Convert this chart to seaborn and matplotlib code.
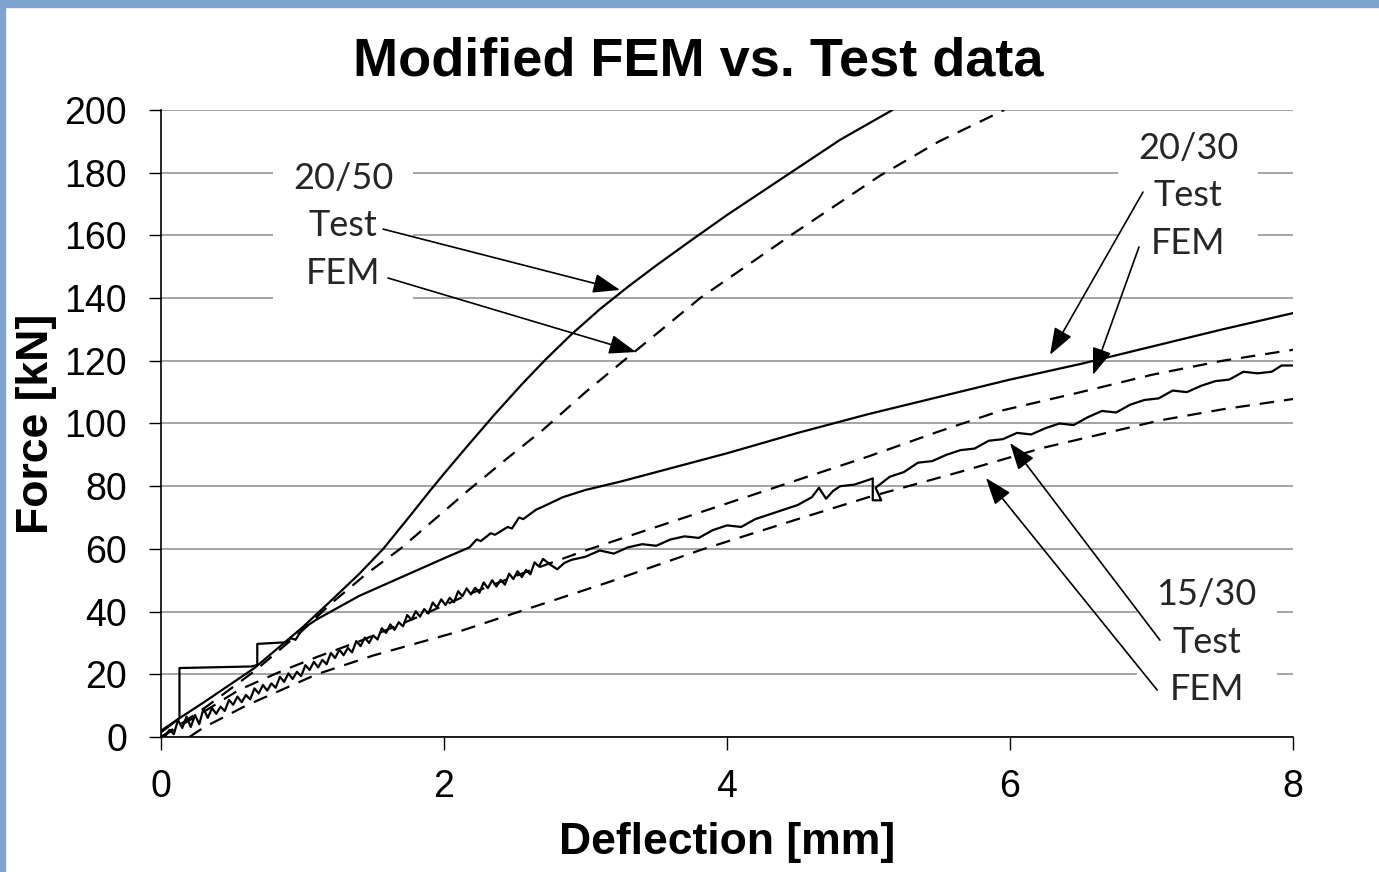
"""Modified FEM vs. test data: force-deflection curves for three beam configurations."""

import matplotlib.pyplot as plt
import pandas as pd
import seaborn as sns
from matplotlib.patches import Rectangle

# 20/50 test (solid, steepest)
t2050_x = [0.00, 0.13, 0.30, 0.66, 1.00, 1.19, 1.40, 1.57, 1.75, 1.90, 2.00, 2.15, 2.35,
           2.55, 2.72, 2.90, 3.10, 3.30, 3.50, 3.74, 4.00, 4.25, 4.50, 4.80, 5.17]
t2050_y = [2.0, 6.0, 11.0, 22.0, 35.0, 43.0, 52.0, 60.0, 70.0, 78.5, 84.0, 92.0, 102.5,
           112.5, 120.5, 128.4, 136.4, 143.6, 150.4, 158.2, 166.5, 174.0, 181.5, 190.5, 200.0]

# 20/50 FEM (dashed)
f2050_x = [0.00, 0.30, 0.66, 1.00, 1.20, 1.45, 1.69, 2.00, 2.18, 2.45, 2.70, 3.00, 3.35,
           3.81, 4.45, 5.08, 5.50, 5.96]
f2050_y = [0.0, 9.0, 21.0, 34.0, 42.5, 52.0, 60.0, 72.0, 79.0, 89.0, 98.0, 110.0, 123.0,
           140.0, 160.0, 179.0, 190.0, 200.0]

# 20/30 test (solid, with load steps at the start)
t2030_x = [0.00, 0.13, 0.13, 0.64, 0.68, 0.68, 0.88, 0.92, 0.95, 1.00, 1.10, 1.20, 1.40,
           1.70, 2.00, 2.18, 2.23, 2.26, 2.33, 2.36, 2.45, 2.48, 2.53, 2.56, 2.65, 2.70,
           2.84, 3.00, 3.25, 3.50, 3.75, 4.00, 4.50, 5.00, 5.50, 6.00, 6.50, 7.00, 7.50, 8.00]
t2030_y = [1.5, 6.0, 22.0, 22.5, 23.0, 29.7, 30.2, 31.5, 31.0, 34.5, 37.5, 40.0, 45.0,
           51.0, 57.0, 60.5, 63.0, 62.5, 65.0, 64.5, 67.0, 66.5, 70.0, 69.5, 72.5, 73.5,
           76.5, 78.8, 81.5, 84.5, 87.5, 90.5, 97.0, 103.0, 108.5, 114.0, 119.0, 124.5,
           130.0, 135.2]

# 20/30 FEM (dashed)
f2030_x = [0.00, 0.30, 0.55, 0.85, 1.10, 1.40, 1.80, 2.20, 2.60, 3.00, 3.50, 4.00, 4.50,
           5.00, 5.50, 5.93, 6.50, 7.00, 7.50, 8.00]
f2030_y = [0.0, 8.0, 15.0, 21.0, 25.5, 30.5, 38.0, 46.0, 53.0, 59.5, 67.0, 74.5, 82.0,
           89.5, 97.5, 104.0, 110.0, 115.5, 120.0, 123.5]

# 15/30 test (noisy solid)
t1530_x = [0.00, 0.03, 0.06, 0.09, 0.12, 0.15, 0.18, 0.21, 0.24, 0.27, 0.30, 0.33, 0.36,
           0.39, 0.42, 0.45, 0.48, 0.51, 0.54, 0.57, 0.60, 0.63, 0.66, 0.69, 0.72, 0.75,
           0.78, 0.81, 0.84, 0.87, 0.90, 0.93, 0.96, 0.99, 1.02, 1.05, 1.08, 1.11, 1.14,
           1.17, 1.20, 1.23, 1.26, 1.29, 1.32, 1.35, 1.38, 1.41, 1.44, 1.47, 1.50, 1.53,
           1.56, 1.59, 1.62, 1.65, 1.68, 1.71, 1.74, 1.77, 1.80, 1.83, 1.86, 1.89, 1.92,
           1.95, 1.98, 2.01, 2.04, 2.07, 2.10, 2.13, 2.16, 2.19, 2.22, 2.25, 2.28, 2.31,
           2.34, 2.37, 2.40, 2.43, 2.46, 2.49, 2.52, 2.55, 2.58, 2.61, 2.64, 2.67, 2.70,
           2.75, 2.80, 2.85, 2.90, 3.00, 3.10, 3.20, 3.30, 3.40, 3.50, 3.60, 3.70, 3.80,
           3.90, 4.00, 4.10, 4.20, 4.30, 4.40, 4.50, 4.60, 4.65, 4.70, 4.75, 4.80, 4.90,
           5.00, 5.03, 5.03, 5.09, 5.05, 5.15, 5.25, 5.35, 5.45, 5.55, 5.65, 5.75, 5.85,
           5.95, 6.05, 6.15, 6.25, 6.35, 6.45, 6.55, 6.65, 6.75, 6.85, 6.95, 7.05, 7.15,
           7.25, 7.35, 7.45, 7.55, 7.65, 7.75, 7.85, 7.92, 8.00]
t1530_y = [0.5, 0.3, 2.3, 0.9, 5.4, 2.9, 6.5, 3.2, 7.0, 4.1, 9.1, 6.1, 9.2,
           7.4, 9.7, 8.3, 11.8, 10.3, 12.9, 11.1, 13.4, 12.0, 15.5, 13.9, 16.6, 14.8,
           17.1, 15.7, 19.2, 17.6, 20.3, 18.5, 20.8, 19.4, 22.9, 21.4, 24.0, 22.2, 24.6,
           23.2, 26.8, 25.2, 27.8, 26.1, 28.4, 27.0, 30.6, 29.0, 31.7, 30.0, 32.4, 31.1,
           34.7, 33.2, 35.9, 34.2, 36.6, 35.3, 38.9, 37.4, 40.1, 38.4, 40.8, 39.4, 42.9,
           41.3, 43.9, 42.1, 44.4, 43.0, 46.5, 44.9, 47.4, 45.5, 47.6, 46.0, 49.3, 47.5,
           50.0, 48.0, 50.1, 48.6, 52.1, 50.4, 52.9, 51.0, 53.3, 51.9, 55.7, 54.4, 56.8,
           55.0, 53.5, 55.5, 56.5, 57.5, 59.5, 58.5, 60.5, 61.5, 61.0, 63.0, 64.0, 63.5,
           66.0, 67.5, 67.0, 69.5, 71.0, 72.5, 74.0, 76.5, 79.5, 76.0, 78.5, 80.0, 80.5,
           82.0, 82.5, 75.5, 75.5, 79.5, 83.0, 84.5, 87.5, 88.0, 90.0, 91.5, 92.0, 94.5,
           95.0, 97.0, 96.5, 98.5, 100.0, 99.5, 102.0, 104.0, 103.5, 106.0, 107.5, 108.0, 110.5,
           110.0, 112.0, 113.5, 114.0, 116.5, 116.0, 116.5, 118.5, 118.5]

# 15/30 FEM (dashed, lowest)
f1530_x = [0.20, 0.30, 0.60, 1.10, 1.50, 2.13, 2.70, 3.17, 3.81, 4.50, 5.00, 5.65, 6.23,
           7.06, 7.50, 8.00]
f1530_y = [0.0, 3.0, 10.0, 20.0, 26.0, 34.0, 42.5, 49.5, 59.6, 69.5, 76.5, 84.6, 92.2,
           101.0, 104.5, 107.8]

x_ticks = [0, 2, 4, 6, 8]
y_ticks = list(range(0, 201, 20))

# label groups: (text, centre x, centre y)
groups = [
    ("20/50\nTest\nFEM", 1.286, 163.0),
    ("20/30\nTest\nFEM", 7.258, 172.6),
    ("15/30\nTest\nFEM", 7.39, 30.3),
]
# arrows: (start, tip)
arrows = [
    ((1.569, 162.0), (3.244, 142.6)),
    ((1.604, 146.4), (3.357, 122.8)),
    ((6.94, 173.8), (6.283, 121.9)),
    ((6.912, 156.3), (6.587, 115.5)),
    ((7.06, 30.9), (6.0, 93.8)),
    ((7.04, 15.0), (5.83, 82.6)),
]


def frame(x, y):
    return pd.DataFrame({"deflection": x, "force": y})


def main() -> None:
    sns.set_theme(style="white")
    plt.rcParams["font.family"] = ["Liberation Sans", "DejaVu Sans"]

    fig = plt.figure(figsize=(13.79, 8.72), dpi=100)
    ax = fig.add_axes([0.1168, 0.1548, 0.8208, 0.7191])

    dash = (0, (6.5, 4.5))
    line_kw = dict(color="black", lw=1.6, sort=False, estimator=None, ax=ax)
    sns.lineplot(data=frame(t2050_x, t2050_y), x="deflection", y="force", **line_kw)
    sns.lineplot(data=frame(t2030_x, t2030_y), x="deflection", y="force", **line_kw)
    sns.lineplot(data=frame(t1530_x, t1530_y), x="deflection", y="force", **line_kw)
    for fx, fy in [(f2050_x, f2050_y), (f2030_x, f2030_y), (f1530_x, f1530_y)]:
        sns.lineplot(data=frame(fx, fy), x="deflection", y="force", linestyle=dash, **line_kw)

    ax.set_xlim(0, 8)
    ax.set_ylim(0, 200)
    ax.set_xticks(x_ticks)
    ax.set_yticks(y_ticks)
    ax.set_axisbelow(True)
    ax.yaxis.grid(True, color="#8c8c8c", lw=1.1)
    ax.xaxis.grid(False)
    for side in ["top", "right"]:
        ax.spines[side].set_visible(False)
    for side in ["left", "bottom"]:
        ax.spines[side].set_color("black")
        ax.spines[side].set_linewidth(1.2)
    ax.tick_params(axis="y", left=True, direction="out", length=8.5, width=1.0,
                   pad=16, labelsize=27, colors="black")
    ax.tick_params(axis="x", bottom=True, direction="out", length=9, width=1.0,
                   pad=14, labelsize=27, colors="black")

    ax.set_xlabel("Deflection [mm]", fontsize=32, fontweight="bold", color="black")
    ax.set_ylabel("Force [kN]", fontsize=32, fontweight="bold", color="black")
    ax.xaxis.set_label_coords(0.5, -0.135)
    ax.yaxis.set_label_coords(-0.092, 0.5)

    for label, gx, gy in groups:
        ax.text(gx, gy, label, ha="center", va="center", fontsize=26,
                family=["Lato", "DejaVu Sans"], linespacing=1.53, zorder=3,
                bbox=dict(boxstyle="square,pad=0.55", fc="white", ec="none"))
    for start, tip in arrows:
        ax.annotate("", xy=tip, xytext=start, zorder=4,
                    arrowprops=dict(arrowstyle="-|>,head_length=0.83,head_width=0.3",
                                    mutation_scale=20, lw=1.2, color="black",
                                    shrinkA=0, shrinkB=0))

    fig.text(0.506, 1 - 75 / 872, "Modified FEM vs. Test data", ha="center",
             va="baseline", fontsize=39, fontweight="bold", color="black")

    # light blue frame edges (left and top) as in the slide screenshot
    fig.patches.append(Rectangle((0, 0), 5 / 1379, 1, transform=fig.transFigure,
                                 color="#80a4d0", zorder=10))
    fig.patches.append(Rectangle((0, 1 - 7 / 872), 1, 7 / 872, transform=fig.transFigure,
                                 color="#80a4d0", zorder=10))

    fig.savefig("out.png", dpi=100)
    plt.close(fig)


if __name__ == "__main__":
    main()
